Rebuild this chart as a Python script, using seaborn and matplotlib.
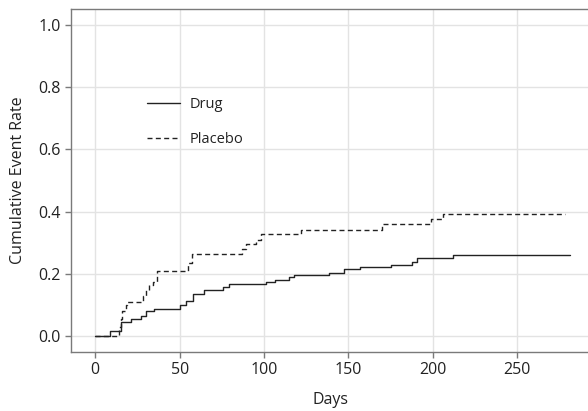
import matplotlib
matplotlib.use("Agg")
import matplotlib.pyplot as plt
import seaborn as sns
import pandas as pd

# Cumulative event rate step functions (day of change, rate after the change)
drug_days = [0, 9, 15, 21, 27, 30, 35, 50, 54, 57.7, 64.5, 75.4, 79.4, 101, 106.7,
             114.6, 118, 138.5, 147.3, 156.8, 175, 187.4, 190.3, 212, 281]
drug_rate = [0.0, 0.018, 0.046, 0.055, 0.066, 0.080, 0.087, 0.100, 0.112, 0.137,
             0.149, 0.158, 0.167, 0.176, 0.182, 0.190, 0.196, 0.204, 0.216, 0.224,
             0.230, 0.239, 0.253, 0.261, 0.261]

placebo_days = [0, 14, 15.5, 16, 18, 19, 28, 30, 32, 34, 36.5, 55, 57, 87, 89, 95,
                98, 121.6, 169.7, 199, 206, 278]
placebo_rate = [0.0, 0.03, 0.055, 0.080, 0.100, 0.110, 0.130, 0.150, 0.165, 0.175,
                0.210, 0.235, 0.265, 0.280, 0.295, 0.310, 0.328, 0.341, 0.360,
                0.377, 0.394, 0.394]

groups = ["Drug", "Placebo"]

df = pd.concat([
    pd.DataFrame({"Days": drug_days, "Rate": drug_rate, "Group": groups[0]}),
    pd.DataFrame({"Days": placebo_days, "Rate": placebo_rate, "Group": groups[1]}),
], ignore_index=True)

sns.set_theme(style="whitegrid")
plt.rcParams["font.family"] = ["Open Sans", "DejaVu Sans"]

fig = plt.figure(figsize=(5.88, 4.11), dpi=100)
ax = fig.add_axes([71 / 588, 1 - 352 / 411, 1 - 71 / 588 + 0.002, 343 / 411])

sns.lineplot(data=df, x="Days", y="Rate", hue="Group", style="Group",
             hue_order=groups, style_order=groups,
             palette=["#222222", "#222222"],
             dashes={"Drug": "", "Placebo": (3.6, 2.4)},
             drawstyle="steps-post", linewidth=1.0, estimator=None,
             ax=ax, legend=True)

ax.set_xlim(-14.4, 292.6)
ax.set_ylim(-0.05, 1.05)
ax.set_xticks([0, 50, 100, 150, 200, 250])
ax.set_yticks([0.0, 0.2, 0.4, 0.6, 0.8, 1.0])
ax.set_yticklabels(["0.0", "0.2", "0.4", "0.6", "0.8", "1.0"])

ax.grid(True, color="#e3e3e3", linewidth=1.0)
for side in ["left", "bottom", "top"]:
    ax.spines[side].set_visible(True)
    ax.spines[side].set_color("#7a7a7a")
    ax.spines[side].set_linewidth(1.0)
ax.spines["right"].set_visible(False)

ax.tick_params(axis="both", which="both", length=4.5, width=1, color="#7a7a7a",
               labelsize=11.5, labelcolor="#222222", pad=3,
               bottom=True, left=True, direction="out")

ax.set_xlabel("Days", fontsize=11.5, color="#222222", labelpad=10)
ax.set_ylabel("Cumulative Event Rate", fontsize=11.5, color="#222222", labelpad=9)

leg = ax.legend(frameon=False, fontsize=10.5, handlelength=2.2, handletextpad=0.68,
                labelspacing=1.35, loc="upper left", borderpad=0, borderaxespad=0,
                bbox_to_anchor=(0.1476, 0.743))
for t in leg.get_texts():
    t.set_color("#222222")

fig.savefig("out.png", dpi=100)
